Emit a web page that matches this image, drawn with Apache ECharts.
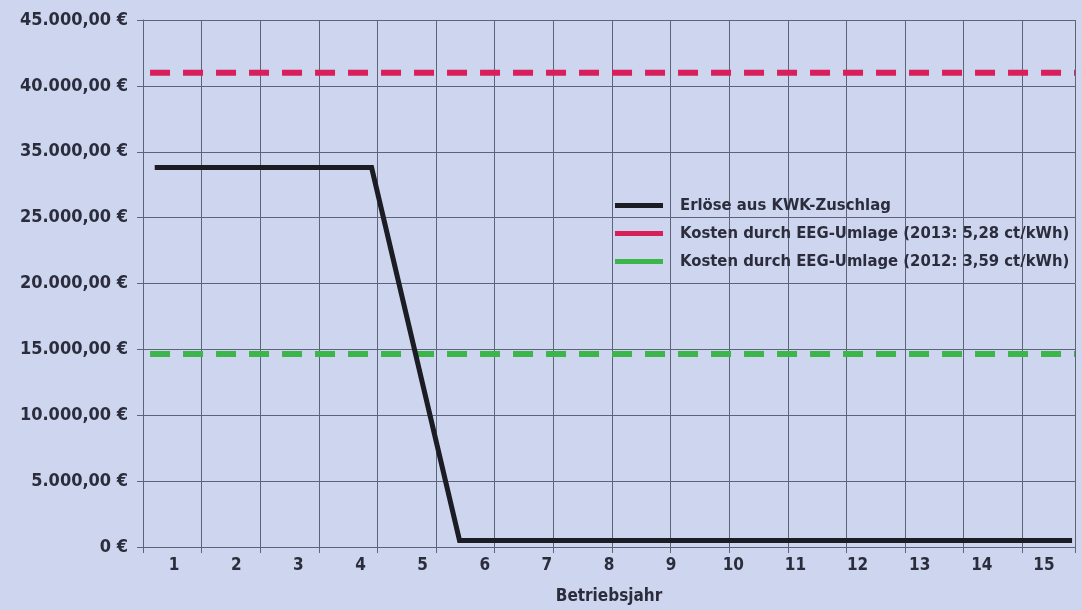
<!DOCTYPE html>
<html>
<head>
<meta charset="utf-8">
<script src="https://cdn.jsdelivr.net/npm/echarts@6/dist/echarts.min.js"></script>
<style>
html,body{margin:0;padding:0;background:#cdd5ef;}
#chart{width:1082px;height:610px;}
</style>
</head>
<body>
<div id="chart"></div>
<script>
// Categories (Betriebsjahr)
const years = ['1','2','3','4','5','6','7','8','9','10','11','12','13','14','15'];
// Y tick labels exactly as printed in the reference (one per 5.000 step)
const yTickLabels = ['0 €','5.000,00 €','10.000,00 €','15.000,00 €','20.000,00 €','25.000,00 €','35.000,00 €','40.000,00 €','45.000,00 €'];
// Series: x in continuous operating-year units (year k spans k-1..k)
const kwkYear = [0.2, 3.9, 5.4, 15.85];
const kwkValue = [28800, 28800, 500, 500];
const eeg2013Year = [0.12, 15.9];
const eeg2013Value = [36000, 36000];
const eeg2012Year = [0.12, 15.9];
const eeg2012Value = [14650, 14650];
const seriesNames = ['Erlöse aus KWK-Zuschlag','Kosten durch EEG-Umlage (2013: 5,28 ct/kWh)','Kosten durch EEG-Umlage (2012: 3,59 ct/kWh)'];

const zip = (xs, ys) => xs.map((x, i) => [x, ys[i]]);
const FONT = '"DejaVu Sans Condensed", "DejaVu Sans", sans-serif';
const TXT = '#2b2d3c';
const GRIDC = '#5d6379';

const chart = echarts.init(document.getElementById('chart'));
chart.setOption({
  backgroundColor: '#cdd5ef',
  animation: false,
  grid: { left: 143, right: 7, top: 20, bottom: 62, containLabel: false },
  legend: {
    orient: 'vertical', left: 610, top: 191,
    icon: 'rect', itemWidth: 48, itemHeight: 5, itemGap: 9,
    textStyle: { fontFamily: FONT, fontSize: 16.5, fontWeight: 'bold', color: TXT, lineHeight: 19, padding: [0,0,0,12] },
    data: seriesNames
  },
  xAxis: [
    {
      type: 'category', data: years, position: 'bottom', boundaryGap: true,
      axisLine: { show: true, lineStyle: { color: GRIDC, width: 1 } },
      axisTick: { show: false }, splitLine: { show: false },
      axisLabel: { fontFamily: FONT, fontSize: 17, fontWeight: 'bold', color: TXT, margin: 10 },
      name: 'Betriebsjahr', nameLocation: 'middle', nameGap: 41,
      nameTextStyle: { fontFamily: FONT, fontSize: 17, fontWeight: 'bold', color: TXT }
    },
    {
      type: 'value', min: 0, max: 15.9, interval: 1, position: 'bottom',
      axisLine: { show: false },
      axisTick: { show: true, inside: false, length: 6, lineStyle: { color: GRIDC } },
      axisLabel: { show: false },
      splitLine: { show: true, lineStyle: { color: GRIDC, width: 1 } }
    }
  ],
  yAxis: {
    type: 'value', min: 0, max: 40000, interval: 5000,
    axisLine: { show: true, lineStyle: { color: GRIDC, width: 1 } },
    axisTick: { show: true, length: 6, lineStyle: { color: GRIDC } },
    splitLine: { show: true, lineStyle: { color: GRIDC, width: 1 } },
    axisLabel: {
      fontFamily: FONT, fontSize: 18, fontWeight: 'bold', color: TXT, margin: 15,
      formatter: v => yTickLabels[Math.round(v / 5000)]
    }
  },
  series: [
    {
      name: seriesNames[0], type: 'line', xAxisIndex: 1, data: zip(kwkYear, kwkValue),
      symbol: 'none', lineStyle: { color: '#1b1c24', width: 5, join: 'miter' },
      itemStyle: { color: '#1b1c24' }, z: 5
    },
    {
      name: seriesNames[1], type: 'line', xAxisIndex: 1, data: zip(eeg2013Year, eeg2013Value),
      symbol: 'none', lineStyle: { color: '#d81f5c', width: 6, type: [20, 13] },
      itemStyle: { color: '#d81f5c' }, z: 4
    },
    {
      name: seriesNames[2], type: 'line', xAxisIndex: 1, data: zip(eeg2012Year, eeg2012Value),
      symbol: 'none', lineStyle: { color: '#3cb54b', width: 6, type: [20, 13] },
      itemStyle: { color: '#3cb54b' }, z: 4
    }
  ]
});
</script>
</body>
</html>
